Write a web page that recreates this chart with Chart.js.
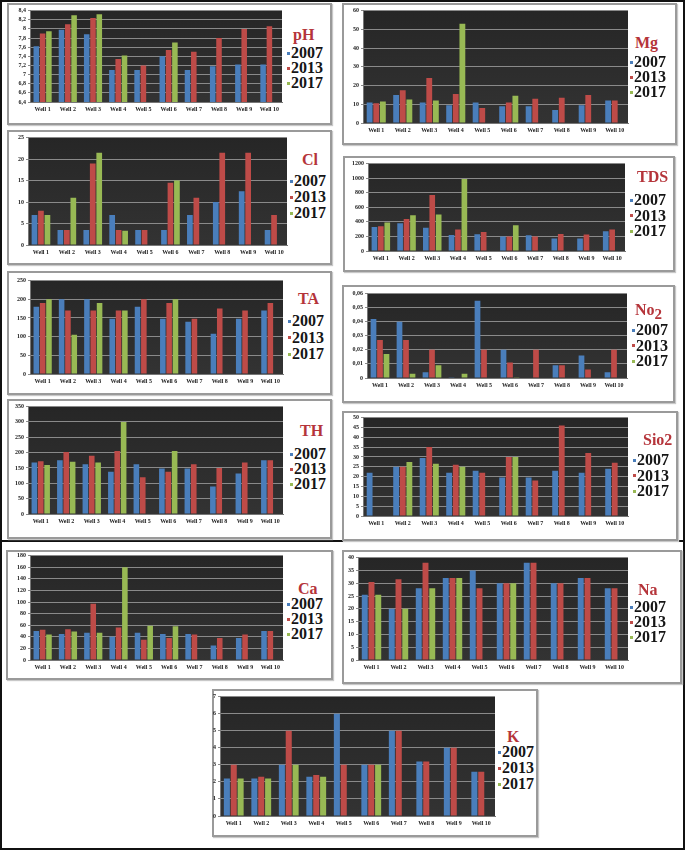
<!DOCTYPE html>
<html>
<head>
<meta charset="utf-8">
<script src="https://cdn.jsdelivr.net/npm/chart.js@4/dist/chart.umd.min.js"></script>
<style>
  html,body{margin:0;padding:0;background:#fff;}
  #page{position:relative;width:685px;height:850px;overflow:hidden;background:#fff;}
  .frame{position:absolute;left:0;top:0;width:681px;height:846px;border:2px solid #111;}
  .hline{position:absolute;left:0;top:540px;width:685px;height:2px;background:#111;}
  .box{position:absolute;box-sizing:border-box;border:2px solid #9a9a9a;background:#fff;box-shadow:1px 1px 1px #c8c8c8;}
  canvas{position:absolute;}
  .lt{position:absolute;font-family:"Liberation Serif","Times New Roman",serif;font-weight:bold;font-size:16px;line-height:20px;color:#b5343a;white-space:nowrap;}
  .le{position:absolute;font-family:"Liberation Serif","Times New Roman",serif;font-weight:bold;font-size:16px;line-height:18px;color:#151515;white-space:nowrap;}
  .mk{display:inline-block;width:3px;height:3px;margin-right:1px;vertical-align:middle;position:relative;top:-1px;}
</style>
</head>
<body>
<div id="page"><div class="frame"></div><div class="hline"></div></div>
<script>
// ---------- categories / series ----------
const wells = ['Well 1','Well 2','Well 3','Well 4','Well 5','Well 6','Well 7','Well 8','Well 9','Well 10'];
const years = ['2007','2013','2017'];

// ---------- values ----------
const pH_2007 = [7.62, 7.98, 7.88, 7.10, 7.10, 7.40, 7.10, 7.18, 7.22, 7.22];
const pH_2013 = [7.90, 8.10, 8.24, 7.34, 7.20, 7.54, 7.50, 7.80, 8.00, 8.06];
const pH_2017 = [7.95, 8.30, 8.32, 7.42, null, 7.70, null, null, null, null];

const Mg_2007 = [11, 15, 11, 9.5, 11, 9, 9, 7, 9.5, 12];
const Mg_2013 = [10.5, 17.5, 24, 15.5, 8, 11, 13, 13.5, 15, 12];
const Mg_2017 = [11.5, 12.5, 12, 53, null, 14.5, null, null, null, null];

const Cl_2007 = [7, 3.5, 3.5, 7, 3.5, 3.5, 7, 10, 12.5, 3.5];
const Cl_2013 = [8, 3.5, 19, 3.5, 3.5, 14.5, 11, 21.5, 21.5, 7];
const Cl_2017 = [7, 11, 21.5, 3.3, null, 15, null, null, null, null];

const TDS_2007 = [330, 380, 320, 220, 230, 200, 215, 170, 170, 270];
const TDS_2013 = [340, 440, 770, 295, 260, 200, 200, 235, 225, 295];
const TDS_2017 = [390, 490, 500, 990, null, 355, null, null, null, null];

const TA_2007 = [180, 200, 200, 148, 180, 148, 140, 108, 148, 170];
const TA_2013 = [190, 170, 170, 170, 200, 190, 148, 175, 170, 190];
const TA_2017 = [200, 105, 190, 170, null, 200, null, null, null, null];

const No2_2007 = [0.042, 0.040, 0.004, 0.0005, 0.055, 0.020, null, 0.009, 0.016, 0.004];
const No2_2013 = [0.027, 0.027, 0.020, null, 0.020, 0.011, 0.020, 0.009, 0.006, 0.020];
const No2_2017 = [0.017, 0.003, 0.009, 0.003, null, 0.0005, null, null, null, null];

const TH_2007 = [168, 175, 162, 138, 162, 148, 148, 90, 132, 175];
const TH_2013 = [172, 202, 190, 205, 120, 138, 162, 150, 168, 175];
const TH_2017 = [160, 170, 168, 300, null, 205, null, null, null, null];

const Sio2_2007 = [22, 25, 29.5, 22, 23, 19.5, 19.5, 23, 22, 24];
const Sio2_2013 = [null, 25, 35, 26, 22, 30, 18, 46, 32, 27];
const Sio2_2017 = [null, 27.5, 26.5, 25, null, 30, null, null, null, null];

const Ca_2007 = [50, 45, 47, 40, 47, 45, 45, 25, 38, 50];
const Ca_2013 = [52, 53, 97, 56, 35, 38, 44, 38, 44, 50];
const Ca_2017 = [44, 49, 47, 160, 59, 58, null, null, null, null];

const Na_2007 = [25.5, 20, 28, 32, 35, 30, 38, 30, 32, 28];
const Na_2013 = [30.5, 31.5, 38, 32, 28, 30, 38, 30, 32, 28];
const Na_2017 = [25.5, 20, 28, 32, null, 30, null, null, null, null];

const K_2007 = [2.2, 2.2, 3, 2.3, 6, 3, 5, 3.2, 4, 2.6];
const K_2013 = [3, 2.3, 5, 2.4, 3, 3, 5, 3.2, 4, 2.6];
const K_2017 = [2.2, 2.2, 3, 2.3, null, 3, null, null, null, null];

// ---------- axis ranges: [min, max, step] ----------
const pH_axis   = [6.4, 8.4, 0.2];
const Mg_axis   = [0, 60, 10];
const Cl_axis   = [0, 25, 5];
const TDS_axis  = [0, 1200, 200];
const TA_axis   = [0, 250, 50];
const No2_axis  = [0, 0.06, 0.01];
const TH_axis   = [0, 350, 50];
const Sio2_axis = [0, 50, 5];
const Ca_axis   = [0, 180, 20];
const Na_axis   = [0, 40, 5];
const K_axis    = [0, 7, 1];

// ---------- styling ----------
const colors = ['#4a7ebb', '#be4b48', '#98b954'];

// layout per panel (box: x,y,w,h ; plot: x1,y1,x2,y2 ; leg: titleX,titleY,markerX,firstY,spacing)
const panels = [
  {title:'pH',  vals:[pH_2007,pH_2013,pH_2017], axis:pH_axis, box:[7,3,325,122], plot:[30,10,282,102], leg:[293,35,287,53,15]},
  {title:'Mg',  vals:[Mg_2007,Mg_2013,Mg_2017], axis:Mg_axis, box:[342,3,335,142], plot:[363,10,628,123], leg:[635,43,630,62,15]},
  {title:'Cl',  vals:[Cl_2007,Cl_2013,Cl_2017], axis:Cl_axis, box:[7,130,325,135], plot:[28,137,287,245], leg:[302,160,290,181,16]},
  {title:'TDS', vals:[TDS_2007,TDS_2013,TDS_2017], axis:TDS_axis, box:[343,156,332,116], plot:[368,163,625,251], leg:[637,177,630,200,15.5]},
  {title:'TA',  vals:[TA_2007,TA_2013,TA_2017], axis:TA_axis, box:[7,271,325,124], plot:[30,280,283,374], leg:[298,299,288,321,16.5]},
  {title:'No<sub style="font-size:15px;vertical-align:-4px">2</sub>', vals:[No2_2007,No2_2013,No2_2017], axis:No2_axis, box:[342,285,333,118], plot:[367,293,627,378], leg:[635,310,632,330,15.5]},
  {title:'TH',  vals:[TH_2007,TH_2013,TH_2017], axis:TH_axis, box:[7,399,325,140], plot:[28,406,283,514], leg:[300,431,290,454,15]},
  {title:'Sio2',vals:[Sio2_2007,Sio2_2013,Sio2_2017], axis:Sio2_axis, box:[342,411,336,130], plot:[363,417,628,516], leg:[643,440,633,460,15.5]},
  {title:'Ca',  vals:[Ca_2007,Ca_2013,Ca_2017], axis:Ca_axis, box:[6,550,327,130], plot:[30,555,283,660], leg:[298,589,287,604,15]},
  {title:'Na',  vals:[Na_2007,Na_2013,Na_2017], axis:Na_axis, box:[342,550,340,134], plot:[358,557,628,660], leg:[638,590,630,607,15]},
  {title:'K',   vals:[K_2007,K_2013,K_2017], axis:K_axis, box:[212,689,326,148], plot:[220,696,495,816], leg:[507,737,498,752,16]}
];

const plotBg = {
  id:'plotBg',
  beforeDraw(chart){
    const a = chart.chartArea, c = chart.ctx;
    const g = c.createLinearGradient(0, a.top, 0, a.bottom);
    g.addColorStop(0, '#262626');
    g.addColorStop(1, '#333333');
    c.save(); c.fillStyle = g; c.fillRect(a.left, a.top, a.right-a.left, a.bottom-a.top); c.restore();
  }
};

const page = document.getElementById('page');
const YW = 22, XH = 14, PT = 5, PR = 3;

function fmt(v){ return String(Number(v.toFixed(3))).replace('.', ','); }

panels.forEach(p => {
  const box = document.createElement('div');
  box.className = 'box';
  box.style.left = p.box[0]+'px'; box.style.top = p.box[1]+'px';
  box.style.width = p.box[2]+'px'; box.style.height = p.box[3]+'px';
  page.appendChild(box);

  const [x1,y1,x2,y2] = p.plot;
  const cv = document.createElement('canvas');
  const cw = (x2-x1) + YW + PR, ch = (y2-y1) + PT + XH;
  cv.width = cw; cv.height = ch;
  cv.style.left = (x1-YW)+'px'; cv.style.top = (y1-PT)+'px';
  cv.style.width = cw+'px'; cv.style.height = ch+'px';
  page.appendChild(cv);

  const tickFont = {family:'"Liberation Serif","Times New Roman",serif', size:6, weight:'bold'};
  new Chart(cv.getContext('2d'), {
    type:'bar',
    data:{
      labels: wells,
      datasets: years.map((y,i)=>({label:y, data:p.vals[i], backgroundColor:colors[i], borderWidth:0}))
    },
    options:{
      responsive:false, animation:false, devicePixelRatio:1,
      layout:{padding:{top:PT, right:PR, left:0, bottom:0}},
      plugins:{legend:{display:false}, tooltip:{enabled:false}},
      datasets:{bar:{categoryPercentage:0.75, barPercentage:0.88}},
      scales:{
        x:{
          grid:{display:false, drawTicks:false},
          border:{display:true, color:'#777'},
          ticks:{font:tickFont, color:'#222', autoSkip:false, maxRotation:0, minRotation:0, padding:4},
          afterFit(s){ s.height = XH; }
        },
        y:{
          min:p.axis[0], max:p.axis[1],
          grid:{color:'#8a8a8a', lineWidth:1, drawTicks:true, tickLength:2},
          border:{display:true, color:'#777'},
          ticks:{stepSize:p.axis[2], autoSkip:false, font:tickFont, color:'#222', padding:2, callback:(v)=>fmt(v)},
          afterFit(s){ s.width = YW; }
        }
      }
    },
    plugins:[plotBg]
  });

  const [tx,ty,mx,fy,sp] = p.leg;
  const t = document.createElement('div');
  t.className = 'lt';
  t.innerHTML = p.title;
  t.style.left = tx+'px'; t.style.top = (ty-10)+'px';
  page.appendChild(t);
  years.forEach((y,i)=>{
    const e = document.createElement('div');
    e.className = 'le';
    e.style.left = mx+'px'; e.style.top = (fy + i*sp - 9)+'px';
    const m = document.createElement('span');
    m.className = 'mk'; m.style.background = colors[i];
    e.appendChild(m);
    e.appendChild(document.createTextNode(y));
    page.appendChild(e);
  });
});
</script>
</body>
</html>
